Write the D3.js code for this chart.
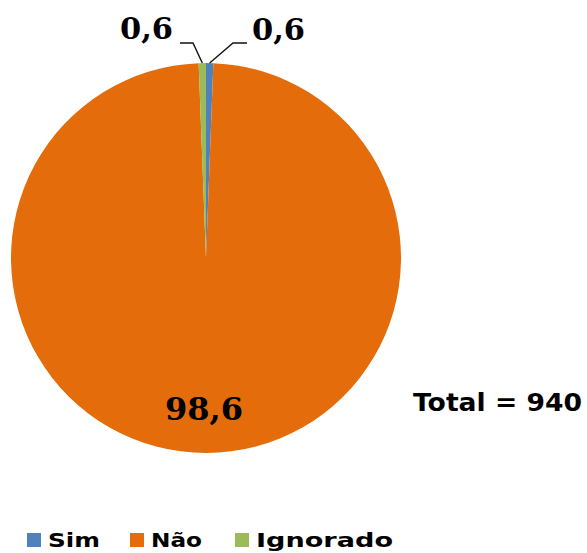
<!DOCTYPE html>
<html>
<head>
<meta charset="utf-8">
<script src="https://cdn.jsdelivr.net/npm/d3@7"></script>
<style>
  body { margin: 0; background: #fff; }
  svg { display: block; }
</style>
</head>
<body>
<div id="chart"></div>
<script>
const categories = ['Sim', 'Não', 'Ignorado'];
const values = [0.6, 98.6, 0.6];
const labels = ['0,6', '98,6', '0,6'];
const colors = ['#4F81BD', '#E46C0A', '#9BBB59'];
const totalText = 'Total = 940';

const width = 587, height = 553;
const cx = 206, cy = 258, r = 195;

const svg = d3.select('#chart').append('svg')
    .attr('width', width)
    .attr('height', height);

const data = categories.map((c, i) => ({ name: c, value: values[i], label: labels[i], color: colors[i] }));

const pie = d3.pie().value(d => d.value).sort(null);
const arc = d3.arc().innerRadius(0).outerRadius(r);
const arcs = pie(data);

const g = svg.append('g').attr('transform', `translate(${cx},${cy})`);

g.selectAll('path')
    .data(arcs)
    .enter().append('path')
    .attr('d', arc)
    .attr('fill', d => d.data.color)
    .attr('stroke', 'none');

const serif = '"DejaVu Serif", serif';
const sans = '"DejaVu Sans", Verdana, sans-serif';

// big label inside
g.append('text')
    .attr('x', -41)
    .attr('y', 162)
    .attr('textLength', 78)
    .attr('lengthAdjust', 'spacingAndGlyphs')
    .style('font-family', serif)
    .style('font-weight', 'bold')
    .style('font-size', '31px')
    .attr('fill', '#000')
    .text(arcs[1].data.label);

// small slice labels with leader lines
const outer = d3.arc().innerRadius(r).outerRadius(r);
const small = [
    { a: arcs[0], tx: 252, ty: 40, lx1: 247, ly: 43, lx2: 233 },
    { a: arcs[2], tx: 120, ty: 39, lx1: 180, ly: 43, lx2: 193 }
];
small.forEach(s => {
    const p = outer.centroid(s.a);
    const px = cx + p[0], py = cy + p[1];
    svg.append('polyline')
        .attr('points', `${s.lx1},${s.ly} ${s.lx2},${s.ly} ${px},${py}`)
        .attr('fill', 'none')
        .attr('stroke', '#111')
        .attr('stroke-width', 1.4);
    svg.append('text')
        .attr('x', s.tx)
        .attr('y', s.ty)
        .attr('textLength', 53)
        .attr('lengthAdjust', 'spacingAndGlyphs')
        .style('font-family', serif)
        .style('font-weight', 'bold')
        .style('font-size', '29px')
        .attr('fill', '#000')
        .text(s.a.data.label);
});

// total
svg.append('text')
    .attr('x', 413)
    .attr('y', 411)
    .attr('textLength', 169)
    .attr('lengthAdjust', 'spacingAndGlyphs')
    .style('font-family', sans)
    .style('font-weight', 'bold')
    .style('font-size', '25px')
    .attr('fill', '#000')
    .text(totalText);

// legend
const legendX = [27, 130, 235];
const legendLen = [52, 51, 137];
const legend = svg.append('g');
data.forEach((d, i) => {
    legend.append('rect')
        .attr('x', legendX[i])
        .attr('y', 533)
        .attr('width', 14)
        .attr('height', 14)
        .attr('fill', d.color);
    legend.append('text')
        .attr('x', legendX[i] + 21)
        .attr('y', 547)
        .attr('textLength', legendLen[i])
        .attr('lengthAdjust', 'spacingAndGlyphs')
        .style('font-family', sans)
        .style('font-weight', 'bold')
        .style('font-size', '20px')
        .attr('fill', '#000')
        .text(d.name);
});
</script>
</body>
</html>
